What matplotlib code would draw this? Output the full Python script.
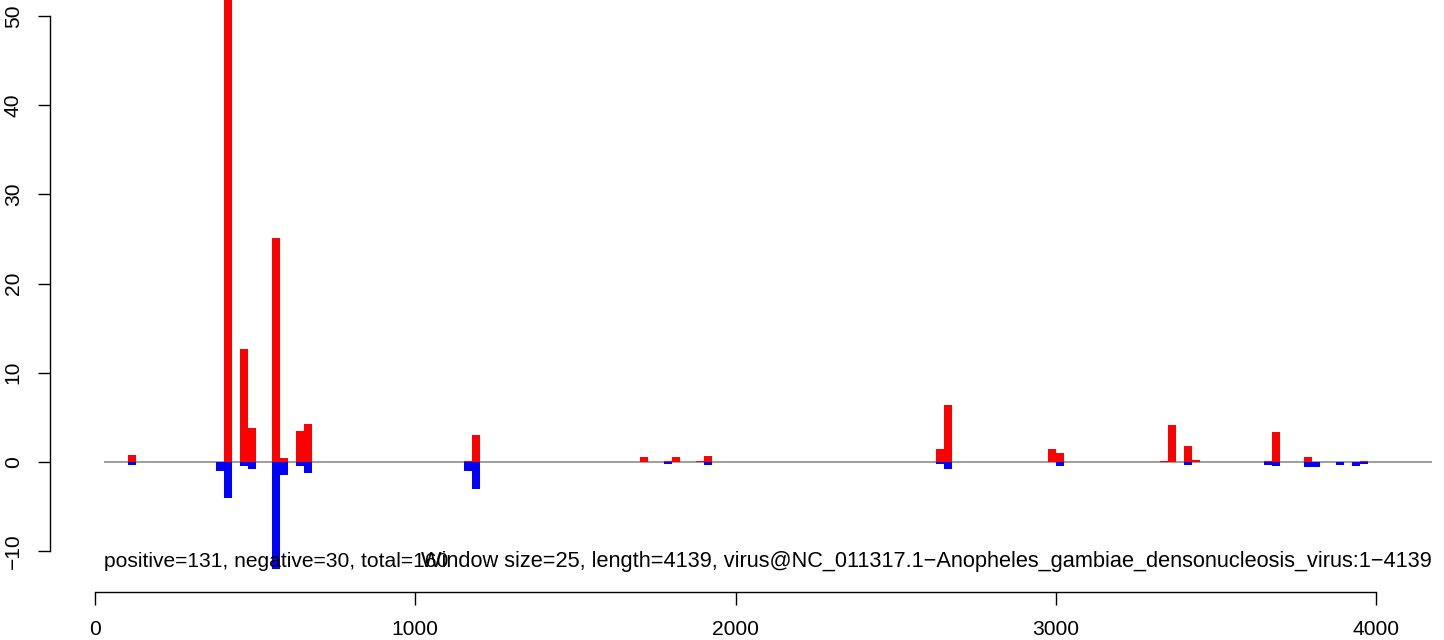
import matplotlib
matplotlib.use('Agg')
import matplotlib.pyplot as plt

plt.rcParams['font.family'] = ['Liberation Sans', 'DejaVu Sans']

# window starts (window size 25) and per-strand values
starts = [101, 376, 401, 451, 476, 551, 576, 626, 651,
          1151, 1176, 1701, 1776, 1801, 1876, 1901,
          2626, 2651, 2976, 3001,
          3326, 3351, 3401, 3426, 3651, 3676,
          3776, 3801, 3876, 3926, 3951]
positive = [0.8, 0.0, 58.0, 12.7, 3.8, 25.1, 0.45, 3.5, 4.25,
            0.1, 3.0, 0.56, 0.1, 0.56, 0.1, 0.7,
            1.5, 6.4, 1.4, 1.0,
            0.1, 4.15, 1.8, 0.2, 0.1, 3.35,
            0.56, 0.0, 0.0, 0.0, 0.1]
negative = [-0.3, -1.0, -4.1, -0.4, -0.75, -12.5, -1.5, -0.4, -1.2,
            -1.0, -3.0, 0.0, -0.2, 0.0, 0.0, -0.3,
            -0.2, -0.8, 0.0, -0.5,
            0.0, 0.0, -0.35, 0.0, -0.35, -0.45,
            -0.56, -0.56, -0.35, -0.45, -0.2]
window = 25
yticks = [-10, 0, 10, 20, 30, 40, 50]
xticks = [0, 1000, 2000, 3000, 4000]
left_note = 'positive=131, negative=30, total=160'
right_note = ('Window size=25, length=4139, '
              'virus@NC_011317.1\u2212Anopheles_gambiae_densonucleosis_virus:1\u22124139')

W, H = 1444, 640
FS = 15.1
fig = plt.figure(figsize=(W / 100, H / 100), dpi=100)

# main plotting region (pixels: x 104..1432, y 0..568.5)
ax = fig.add_axes([104 / W, 1 - 568.5 / H, (1432 - 104) / W, 568.5 / H])
ax.set_xlim(26, 4175)
ax.set_ylim(-11.95, 51.8)

ax.axhline(0, color='#8c8c8c', lw=1.2, zorder=1)
ax.bar(starts, positive, width=window, align='edge', color='#ff0000', linewidth=0, zorder=2)
ax.bar(starts, negative, width=window, align='edge', color='#0000ff', linewidth=0, zorder=2)

for s in ['top', 'right', 'bottom']:
    ax.spines[s].set_visible(False)
ax.spines['left'].set_position(('outward', 54 * 0.72))
ax.spines['left'].set_bounds(-10, 50)
ax.spines['left'].set_linewidth(1.0)
ax.set_yticks(yticks)
ax.tick_params(axis='y', length=12 * 0.72, width=1.0, labelsize=FS, pad=11,
               labelrotation=90)
for lab in ax.get_yticklabels():
    lab.set_va('center')
ax.set_xticks([])

ax.text(0, 0.012, left_note, transform=ax.transAxes, ha='left', va='center',
        fontsize=FS, zorder=5)
ax.text(1, 0.012, right_note, transform=ax.transAxes, ha='right', va='center',
        fontsize=FS * 1.035, zorder=5)

# separate x axis below the plot (pixels: x 95..1376, line at y 592)
axx = fig.add_axes([95 / W, 1 - 592 / H, (1376 - 95) / W, 0.001])
axx.set_xlim(0, 4000)
axx.set_yticks([])
axx.patch.set_visible(False)
for s in ['top', 'right', 'left']:
    axx.spines[s].set_visible(False)
axx.spines['bottom'].set_linewidth(1.0)
axx.set_xticks(xticks)
axx.set_xticklabels([str(t) for t in xticks])
axx.tick_params(axis='x', length=13 * 0.72, width=1.0, labelsize=FS, pad=11)

fig.savefig('out.png', dpi=100)
